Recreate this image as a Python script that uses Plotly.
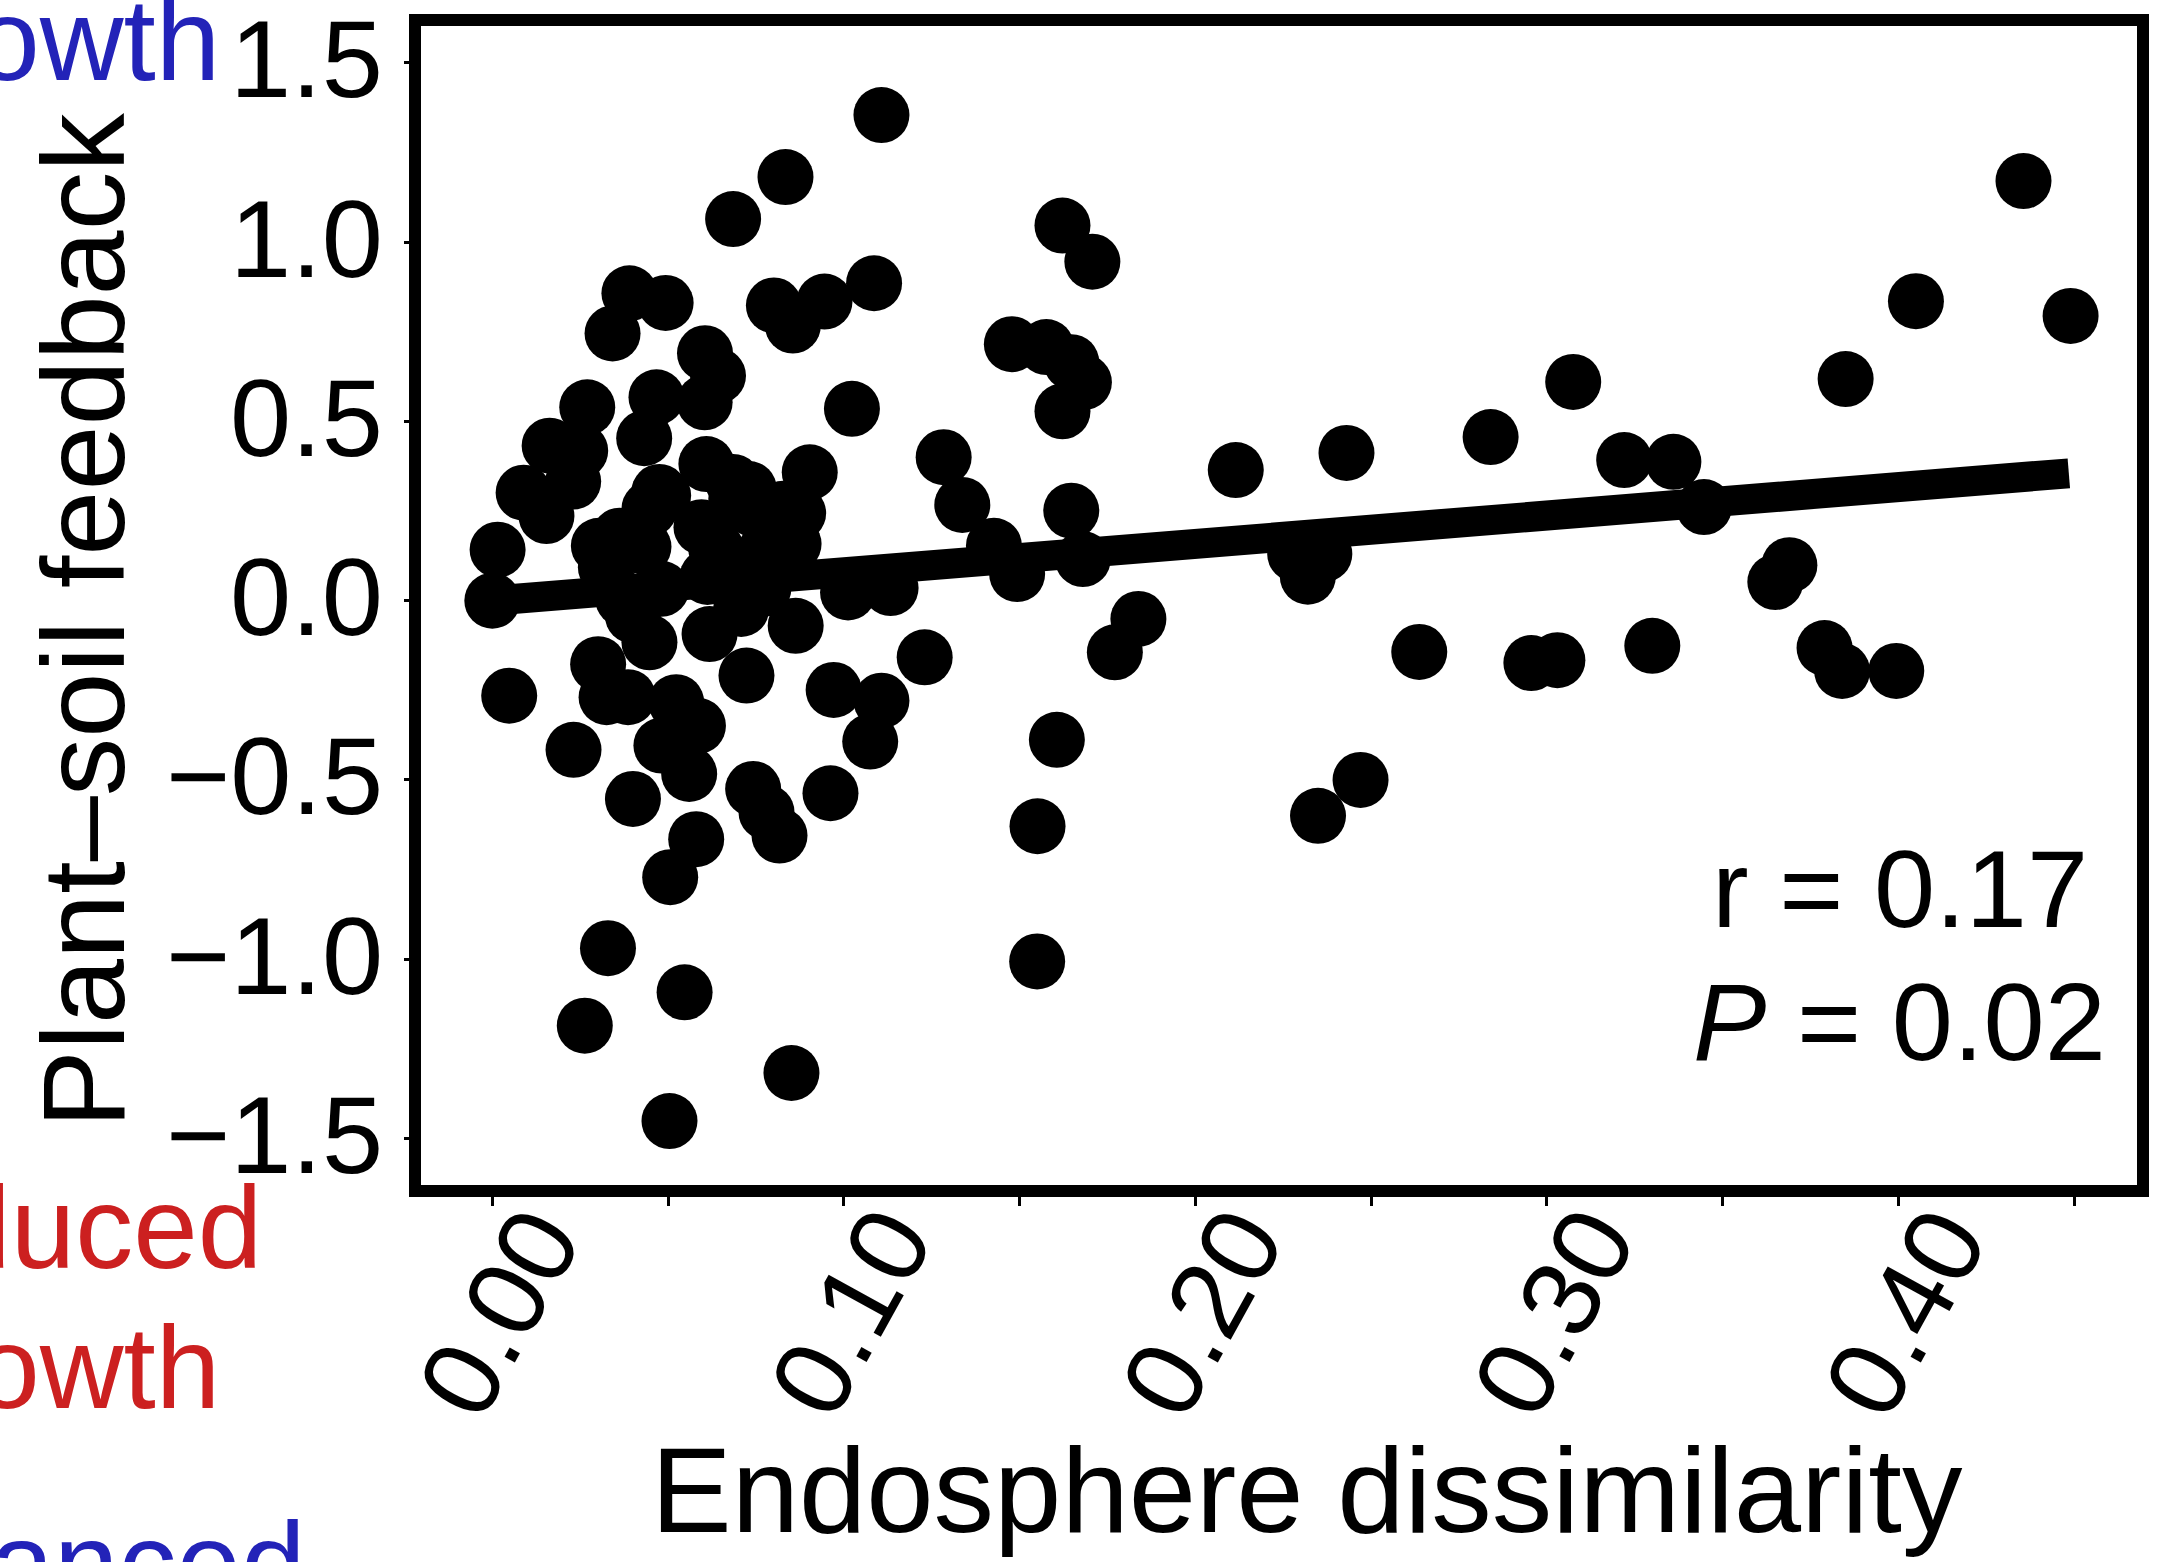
import plotly.graph_objects as go

# ---- data ----
x_vals = [
    0.4356, 0.405, 0.449, 0.385, 0.3075, 0.284, 0.243, 0.2115, 0.322, 0.336, 0.3447, 0.369, 0.365,
    0.2284, 0.2367, 0.232, 0.1838, 0.2637, 0.2956, 0.303, 0.330, 0.379, 0.384, 0.3994, 0.247, 0.2349,
    0.1107, 0.1086, 0.0945, 0.1622, 0.1707, 0.1478, 0.1576, 0.1647, 0.1683, 0.1622, 0.1023, 0.1284,
    0.1337, 0.1427, 0.1493, 0.1647, 0.168, 0.1012, 0.1133, 0.1771, 0.123, 0.0971, 0.1107, 0.1075,
    0.0962, 0.1606, 0.1551, 0.155,
    0.0834, 0.0685, 0.039, 0.0493, 0.0342, 0.0605, 0.0642, 0.0604, 0.0467, 0.0432, 0.0270, 0.0801,
    0.0855, 0.0903,
    0.0163, 0.025, 0.023, 0.0089, 0.0154, 0.0015, 0.0609, 0.0486, 0.0447, 0.0303, 0.0362, 0.0694,
    0.0742, 0.073, 0.0475, 0.087, 0.0857, 0.0827, 0.0808, 0.0685,
    0.0, 0.0372, 0.0481, 0.040, 0.0447, 0.0618, 0.0708, 0.0771, 0.0694, 0.0612, 0.078, 0.0637,
    0.043, 0.0595, 0.0863, 0.0323,
    0.0048, 0.0231, 0.0301, 0.0325, 0.0386, 0.0523, 0.0585, 0.0481, 0.056, 0.040, 0.0742, 0.078,
    0.0817, 0.058, 0.0506, 0.0723, 0.0329, 0.0547, 0.0263, 0.0504, 0.0851,
]
y_vals = [
    1.170, 0.835, 0.794, 0.618, 0.610, 0.456, 0.412, 0.364, 0.392, 0.387, 0.261, 0.099, 0.052,
    0.130, 0.130, 0.067, -0.051, -0.143, -0.174, -0.166, -0.126, -0.132, -0.196, -0.196, -0.500, -0.600,
    1.354, 0.885, 0.834, 1.046, 0.945, 0.715, 0.707, 0.665, 0.609, 0.528, 0.535, 0.400,
    0.267, 0.153, 0.074, 0.251, 0.116, 0.023, 0.035, -0.144, -0.158, -0.249, -0.279, -0.393,
    -0.537, -0.388, -0.629, -1.006,
    1.181, 1.064, 0.857, 0.830, 0.745, 0.690, 0.627, 0.553, 0.567, 0.453, 0.539, 0.823,
    0.767, 0.358,
    0.432, 0.418, 0.332, 0.301, 0.236, 0.142, 0.381, 0.293, 0.256, 0.153, 0.181, 0.284,
    0.256, 0.311, 0.303, 0.244, 0.158, 0.256, 0.180, 0.331,
    0.0, 0.005, 0.033, -0.042, -0.116, -0.093, -0.023, 0.033, 0.070, 0.066, 0.144, 0.144,
    0.150, 0.205, -0.070, 0.093,
    -0.265, -0.416, -0.177, -0.269, -0.269, -0.283, -0.349, -0.404, -0.483, -0.553, -0.525, -0.590,
    -0.655, -0.665, -0.771, -0.209, -0.969, -1.092, -1.185, -1.451, -1.317,
]

fit_x = [0.0, 0.4485]
fit_y = [0.0, 0.355]

x_ticks = [0.00, 0.05, 0.10, 0.15, 0.20, 0.25, 0.30, 0.35, 0.40, 0.45]
x_label_vals = [0.00, 0.10, 0.20, 0.30, 0.40]
x_label_text = ["0.00", "0.10", "0.20", "0.30", "0.40"]
y_ticks = [1.5, 1.0, 0.5, 0.0, -0.5, -1.0, -1.5]
y_label_text = ["1.5", "1.0", "0.5", "0.0", "\u22120.5", "\u22121.0", "\u22121.5"]

FONT = "Liberation Sans, Arial, Helvetica, sans-serif"
BLUE = "#2323B8"
RED = "#CC2020"

fig = go.Figure()
fig.add_trace(go.Scatter(x=x_vals, y=y_vals, mode="markers",
                         marker=dict(size=56, color="black", line=dict(width=0)),
                         hoverinfo="skip"))
fig.add_trace(go.Scatter(x=fit_x, y=fit_y, mode="lines",
                         line=dict(color="black", width=30), hoverinfo="skip"))

W, H = 2174, 1562
L, R, T, B = 415, 31, 20, 371
plot_h = H - T - B

ann = []
# x tick labels (rotated, centred on ticks)
for v, t in zip(x_label_vals, x_label_text):
    ann.append(dict(x=v, xref="x", y=-(1312 - (H - B)) / plot_h, yref="paper",
                    text=t, showarrow=False, textangle=-61, xshift=6,
                    xanchor="center", yanchor="middle",
                    font=dict(family=FONT, size=110, color="black")))
# y tick labels
for v, t in zip(y_ticks, y_label_text):
    ann.append(dict(x=0, xref="paper", y=v, yref="y", text=t, showarrow=False,
                    xanchor="right", yanchor="middle", xshift=-30, yshift=4,
                    font=dict(family=FONT, size=110, color="black")))
# axis titles
ann.append(dict(x=(1307 - L) / (W - L - R), xref="paper", y=-(1490 - (H - B)) / plot_h, yref="paper",
                text="Endosphere dissimilarity", showarrow=False,
                xanchor="center", yanchor="middle",
                font=dict(family=FONT, size=121, color="black")))
ann.append(dict(x=(83 - L) / (W - L - R), xref="paper", y=1 - (621 - T) / plot_h, yref="paper",
                text="Plant\u2013soil feedback", showarrow=False, textangle=-90,
                xanchor="center", yanchor="middle",
                font=dict(family=FONT, size=117, color="black")))
# statistics
ann.append(dict(x=(2090 - L) / (W - L - R), xref="paper", y=1 - (888 - T) / plot_h, yref="paper",
                text="r = 0.17", showarrow=False, xanchor="right", yanchor="middle",
                font=dict(family=FONT, size=110, color="black")))
ann.append(dict(x=(2108 - L) / (W - L - R), xref="paper", y=1 - (1021 - T) / plot_h, yref="paper",
                text="<i>P</i> = 0.02", showarrow=False, xanchor="right", yanchor="middle",
                font=dict(family=FONT, size=110, color="black")))
# cut-off side labels from the neighbouring panel
side = [("growth", BLUE, 222, 40), ("Reduced", RED, 264, 1228),
        ("growth", RED, 222, 1368), ("Enhanced", BLUE, 307, 1564)]
for txt, col, right, cy in side:
    ann.append(dict(x=(right - L) / (W - L - R), xref="paper", y=1 - (cy - T) / plot_h, yref="paper",
                    text=txt, showarrow=False, xanchor="right", yanchor="middle",
                    font=dict(family=FONT, size=116, color=col)))

fig.update_layout(
    width=W, height=H,
    margin=dict(l=L, r=R, t=T, b=B),
    paper_bgcolor="white", plot_bgcolor="white",
    showlegend=False,
    annotations=ann,
    shapes=[dict(type="rect", xref="paper", yref="paper", x0=0, x1=1, y0=0, y1=1,
                 line=dict(color="black", width=12), layer="above")],
    xaxis=dict(range=[-0.022, 0.4696], tickvals=x_ticks, ticks="outside", ticklen=14,
               tickwidth=3, tickcolor="black", showticklabels=False,
               showgrid=False, zeroline=False, showline=False),
    yaxis=dict(range=[-1.646, 1.619], tickvals=y_ticks, ticks="outside", ticklen=10,
               tickwidth=3, tickcolor="black", showticklabels=False,
               showgrid=False, zeroline=False, showline=False),
)

fig.write_html("out.html")
